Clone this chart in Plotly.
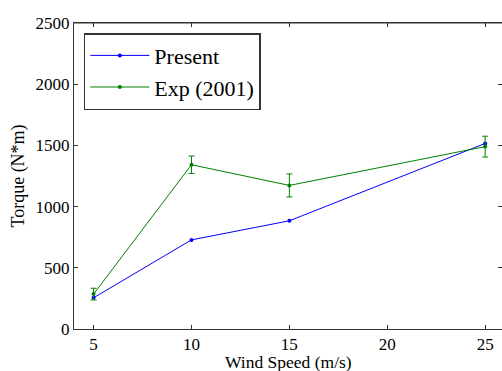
import plotly.graph_objects as go

wind_speed = [5, 10, 15, 25]
present = [255, 728, 884, 1516]
exp_2001 = [285, 1342, 1173, 1490]
exp_err = [48, 71, 94, 85]

FONT = "Liberation Serif"
fig = go.Figure()
fig.add_trace(go.Scatter(
    x=wind_speed, y=present, name="Present", mode="lines+markers",
    line=dict(color="#0000ff", width=1), marker=dict(color="#0000ff", size=4)))
fig.add_trace(go.Scatter(
    x=wind_speed, y=exp_2001, name="Exp (2001)", mode="lines+markers",
    line=dict(color="#008000", width=1), marker=dict(color="#008000", size=4),
    error_y=dict(type="data", array=exp_err, visible=True, color="#008000",
                 thickness=1, width=3)))

fig.update_layout(
    width=502, height=371,
    margin=dict(l=74, r=0, t=23, b=42, autoexpand=False),
    paper_bgcolor="white", plot_bgcolor="white",
    font=dict(family=FONT, size=17, color="black"),
    showlegend=True,
    legend=dict(x=0.023, y=0.967, xanchor="left", yanchor="top",
                bordercolor="#333333", borderwidth=1.5, bgcolor="white",
                font=dict(family=FONT, size=22), itemwidth=59),
    xaxis=dict(range=[4, 25.86], tickvals=[5, 10, 15, 20, 25],
               showgrid=False, zeroline=False, showline=True, linecolor="#333333",
               linewidth=1, ticks="inside", ticklen=4, tickcolor="#333333",
               mirror="ticks", automargin=False),
    yaxis=dict(range=[0, 2500], tickvals=[0, 500, 1000, 1500, 2000, 2500],
               showgrid=False, zeroline=False, showline=True, linecolor="#333333",
               linewidth=1, ticks="inside", ticklen=4, tickcolor="#333333",
               mirror="ticks", automargin=False,
               title=dict(text="Torque (N*m)", font=dict(size=18), standoff=6)),
)
fig.add_annotation(text="Wind Speed (m/s)", xref="paper", yref="paper",
                   x=0.5, y=-0.069, xanchor="center", yanchor="top",
                   showarrow=False, font=dict(family=FONT, size=17.5, color="black"))
fig.add_shape(type="line", xref="paper", yref="paper", x0=0, x1=1, y0=1, y1=1,
              line=dict(color="#333333", width=1))

fig.write_html("out.html", config={"displayModeBar": False},
               post_script="document.body.style.margin='0';document.body.style.overflow='hidden';")
